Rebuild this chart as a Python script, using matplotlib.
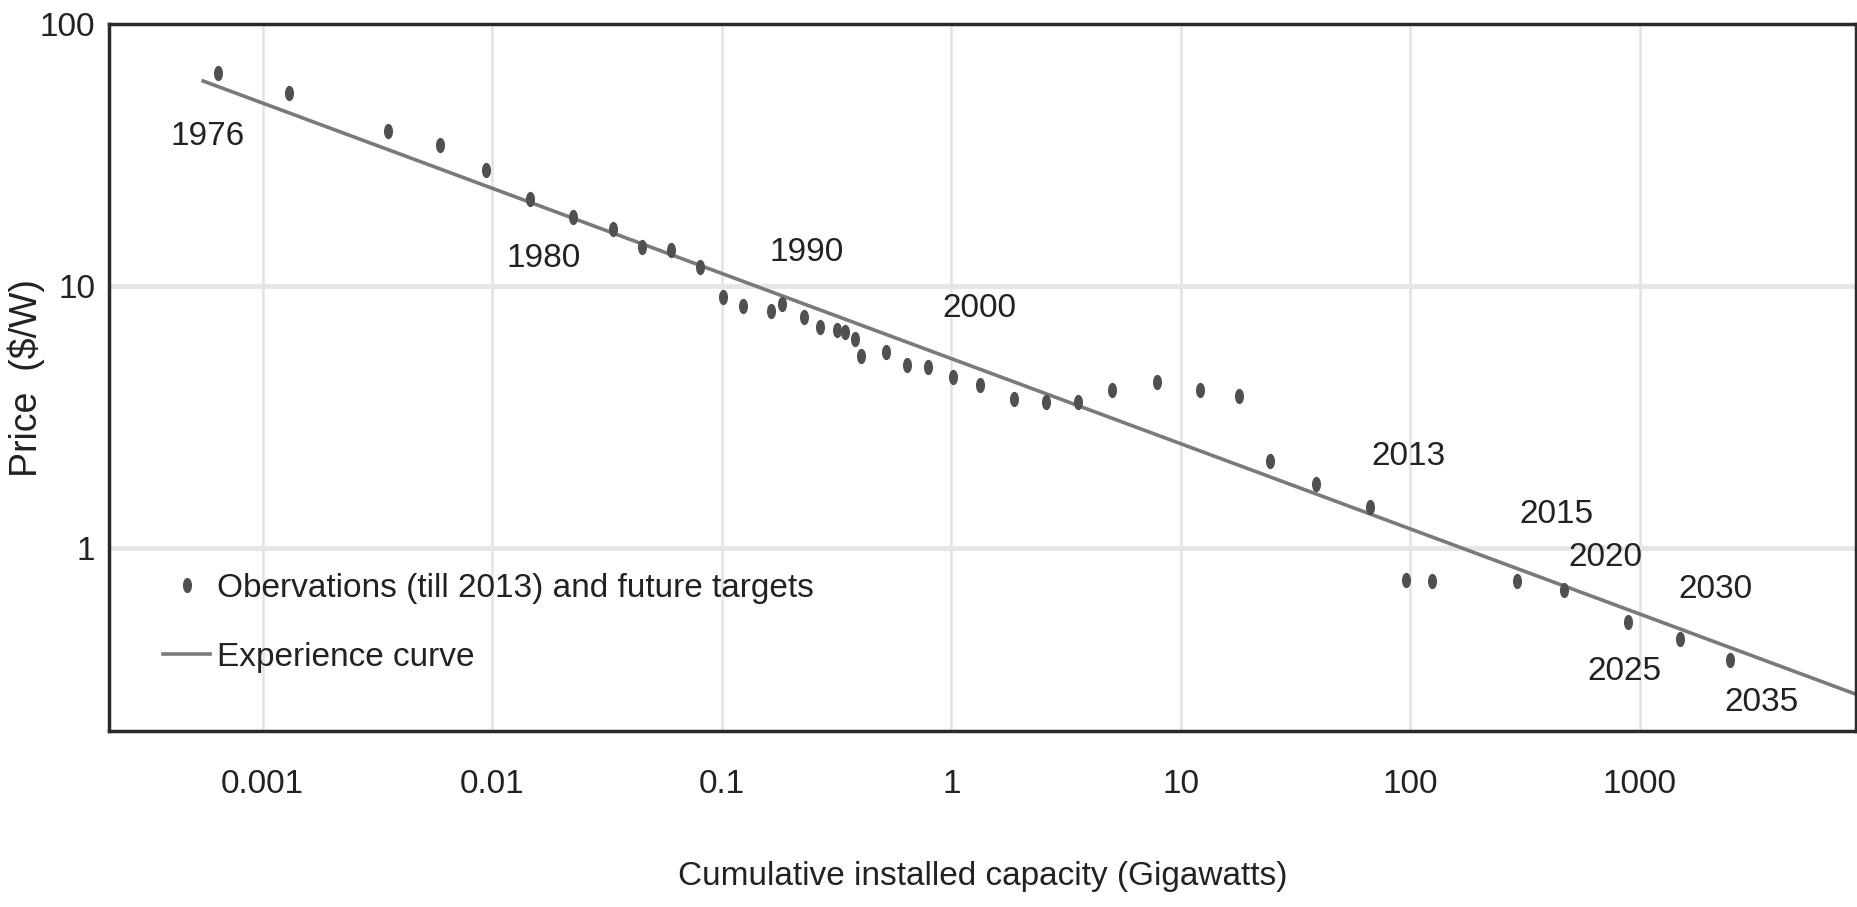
import matplotlib
matplotlib.use("Agg")
import matplotlib.pyplot as plt
import numpy as np
from matplotlib.path import Path
from matplotlib.transforms import Affine2D

plt.rcParams['font.family'] = ['Liberation Sans', 'DejaVu Sans']

# observations (till 2013) and future targets, GW vs $/W
obs_gw = [6.4e-4, 1.3e-3, 3.5e-3, 5.9e-3, 9.4e-3, 0.0146, 0.0224, 0.0335, 0.045, 0.060,
          0.080, 0.101, 0.124, 0.163, 0.183, 0.227, 0.268, 0.316, 0.343, 0.382,
          0.405, 0.52, 0.644, 0.79, 1.02, 1.33, 1.88, 2.58, 3.56, 5.0,
          7.9, 12.1, 17.9, 24.4, 38.7, 66.8, 95.6, 124, 291, 468,
          888, 1496, 2460]
obs_price = [65, 54.7, 39, 34.5, 27.8, 21.4, 18.3, 16.5, 14.1, 13.7,
             11.8, 9.1, 8.4, 8.0, 8.5, 7.6, 7.0, 6.8, 6.7, 6.3,
             5.4, 5.6, 5.0, 4.9, 4.5, 4.2, 3.7, 3.6, 3.6, 4.0,
             4.3, 4.0, 3.8, 2.14, 1.75, 1.43, 0.755, 0.75, 0.75, 0.69,
             0.52, 0.45, 0.375]

# experience curve (straight line in log-log)
curve_gw = [5.5e-4, 8670]
curve_price = [60.6, 0.277]

# year labels
year_labels = ['1976', '1980', '1990', '2000', '2013', '2015', '2020', '2030', '2025', '2035']
year_gw = [5.73e-4, 0.0167, 0.235, 1.33, 97.7, 431, 710, 2138, 857, 3396]
year_price = [37.2, 12.7, 13.4, 8.2, 2.23, 1.34, 0.92, 0.695, 0.338, 0.258]

xtick_vals = [0.001, 0.01, 0.1, 1, 10, 100, 1000]
xtick_text = ['0.001', '0.01', '0.1', '1', '10', '100', '1000']
ytick_vals = [1, 10, 100]
ytick_text = ['1', '10', '100']

fig = plt.figure(figsize=(18.58, 9.07), dpi=100)
ax = fig.add_axes([0.0587, 0.194, 0.940, 0.7795])

# vertical oval marker
oval = Path.unit_circle().transformed(Affine2D().scale(0.55, 1.0))

ax.plot(obs_gw, obs_price, linestyle='none', marker=oval, markersize=10,
        color='#505050', label='Obervations (till 2013) and future targets', zorder=3)
ax.plot(curve_gw, curve_price, color='#7a7a7a', linewidth=2.6,
        label='Experience curve', zorder=2)

for t, xx, yy in zip(year_labels, year_gw, year_price):
    ax.text(xx, yy, t, fontsize=24, ha='center', va='center', color='#222222')

ax.set_xscale('log')
ax.set_yscale('log')
ax.set_xlim(2.14e-4, 8700)
ax.set_ylim(0.2, 100)

ax.set_xticks(xtick_vals)
ax.set_xticklabels(xtick_text)
ax.set_yticks(ytick_vals)
ax.set_yticklabels(ytick_text)
ax.minorticks_off()
ax.tick_params(axis='both', length=0, labelsize=24, colors='#222222')
ax.tick_params(axis='x', pad=27)
ax.tick_params(axis='y', pad=10)

for v in xtick_vals:
    ax.axvline(v, color='#e2e2e2', linewidth=1.8, zorder=0)
for v in [1, 10]:
    ax.axhline(v, color='#e6e6e6', linewidth=3.5, zorder=0)

for s in ax.spines.values():
    s.set_linewidth(2.5)
    s.set_color('#2a2a2a')

ax.set_xlabel('Cumulative installed capacity (Gigawatts)', fontsize=24, labelpad=44, color='#222222')
ax.set_ylabel('Price  ($/W)', fontsize=27, color='#222222')
ax.yaxis.set_label_coords(-0.0475, 0.5)
ax.yaxis.label.set_verticalalignment('center')

ax.legend(loc='upper left', bbox_to_anchor=(0.031, 0.224), frameon=False,
          fontsize=24, handlelength=1.4, handletextpad=0.2, borderpad=0,
          borderaxespad=0, labelspacing=1.15, labelcolor='#222222')

fig.savefig('out.png', dpi=100)
